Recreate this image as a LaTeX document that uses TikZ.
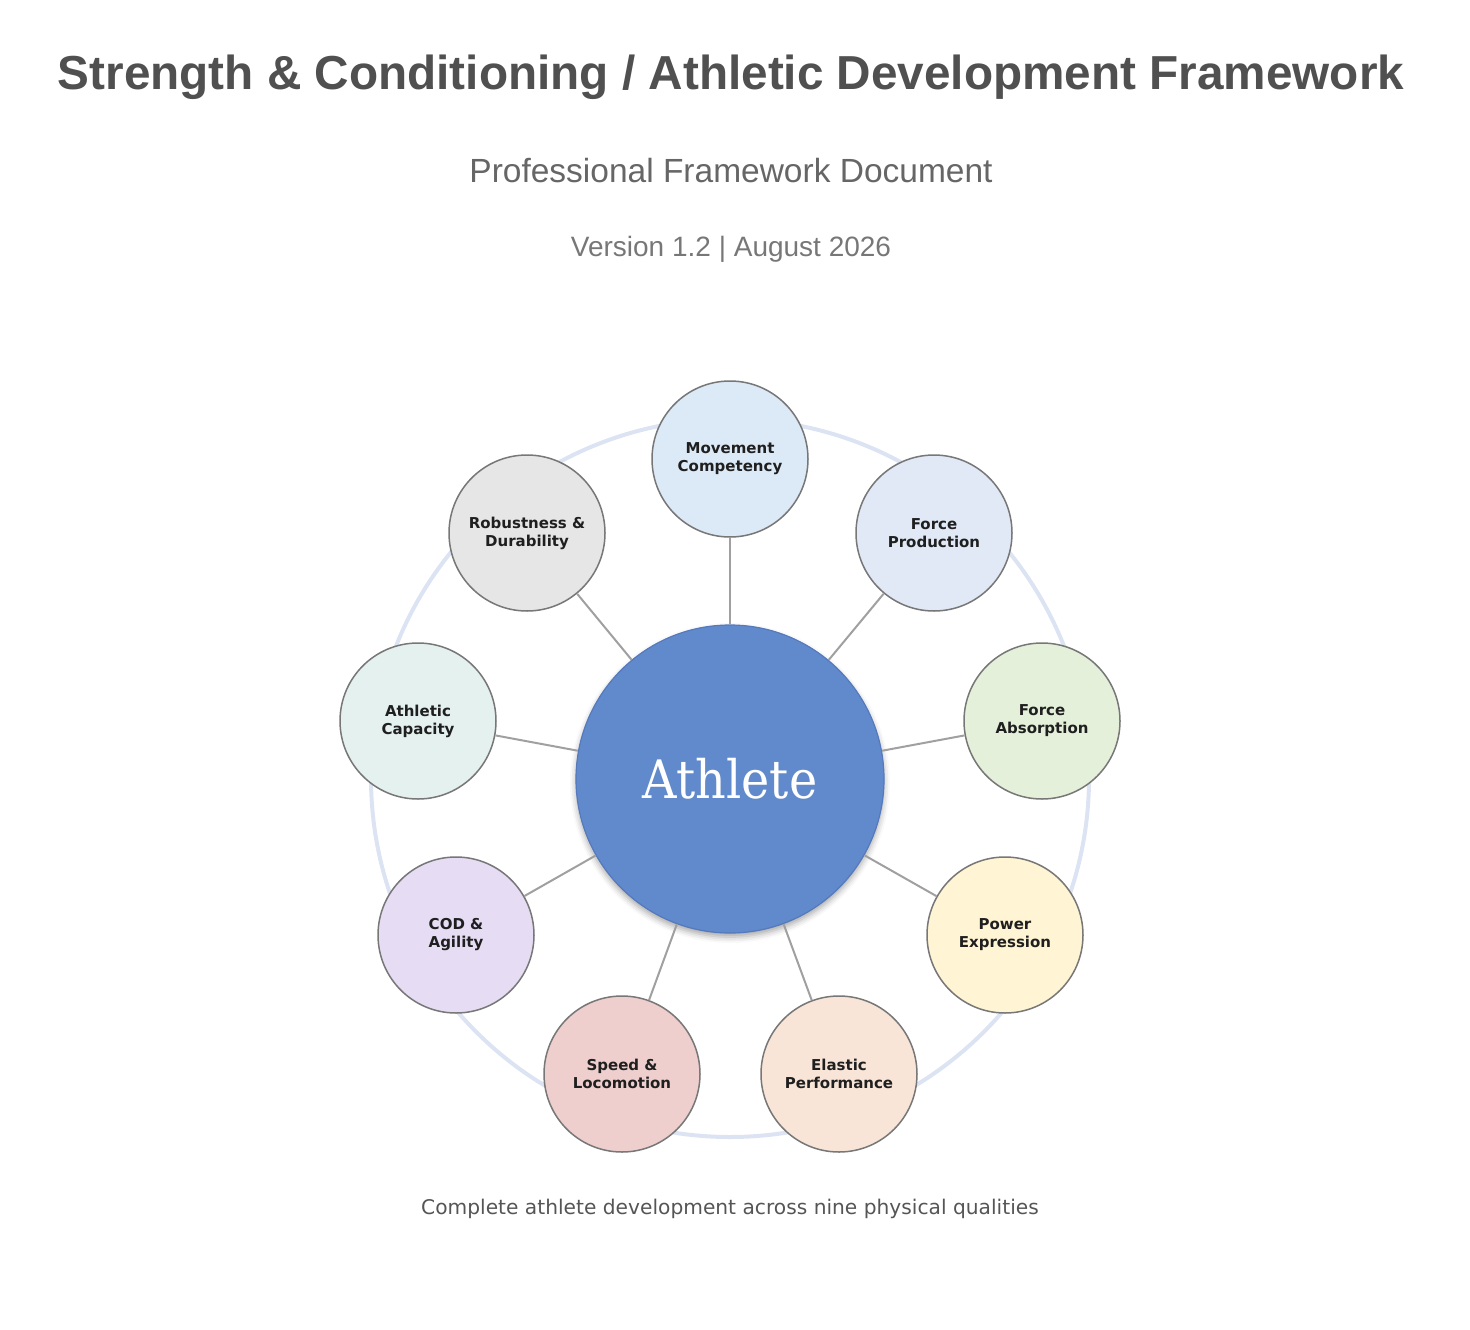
\documentclass[tikz,border=0pt]{standalone}
\usepackage{fontspec}
\setmainfont{Liberation Sans}
\newfontfamily\dejasans{DejaVu Sans}
\newfontfamily\dejaserif[FakeStretch=0.9]{DejaVu Serif}
\usetikzlibrary{shadows.blur}
\definecolor{titlegray}{HTML}{505050}
\definecolor{subgray}{HTML}{666666}
\definecolor{vergray}{HTML}{777777}
\definecolor{capgray}{HTML}{555555}
\definecolor{ringblue}{HTML}{DCE3F2}
\definecolor{linkgray}{HTML}{A0A0A0}
\definecolor{nodeborder}{HTML}{777777}
\definecolor{coreblue}{HTML}{618ACD}
\definecolor{coreborder}{HTML}{5479BC}
\definecolor{cMove}{HTML}{DCE9F6}
\definecolor{cFP}{HTML}{E0E9F5}
\definecolor{cFA}{HTML}{E5F0DA}
\definecolor{cPE}{HTML}{FFF4D3}
\definecolor{cEP}{HTML}{F8E5D8}
\definecolor{cSL}{HTML}{EECFCD}
\definecolor{cCOD}{HTML}{E6DDF5}
\definecolor{cAC}{HTML}{E5F1EF}
\definecolor{cRD}{HTML}{E6E6E6}
\begin{document}
\begin{tikzpicture}[x=1pt,y=-1pt,
  quality/.style={circle, draw=nodeborder, line width=1.5pt, minimum size=156pt, inner sep=0pt,
    align=center, text=black!88, font=\dejasans\bfseries\fontsize{15}{18}\selectfont},
  link/.style={draw=linkgray, line width=2pt},
  core/.style={circle, fill=coreblue, draw=coreborder, line width=1.2pt, minimum size=308pt, inner sep=0pt,
    text=white, font=\dejaserif\fontsize{53}{60}\selectfont,
    blur shadow={shadow xshift=0pt, shadow yshift=-4pt, shadow blur radius=6pt, shadow opacity=35}},
  ringstyle/.style={circle, draw=ringblue, line width=4pt, minimum size=718pt, inner sep=0pt}
]
\useasboundingbox (0,0) rectangle (1470,1330);
% titles
\node[anchor=base, text=titlegray, font=\bfseries\fontsize{47.7}{56}\selectfont] (title) at (731,89) {Strength \& Conditioning / Athletic Development Framework};
\node[anchor=base, text=subgray, font=\fontsize{33.5}{40}\selectfont] (subtitle) at (731,182) {Professional Framework Document};
\node[anchor=base, text=vergray, font=\fontsize{28}{34}\selectfont] (version) at (731,256) {Version 1.2 | August 2026};
% ring
\node[ringstyle] (ring) at (730,778) {};
% center
\node[core] (core) at (730,779) {Athlete};
% satellites
\node[quality, fill=cMove] (mc) at (730,459) {Movement\\Competency};
\node[quality, fill=cFP] (fp) at (934,533) {Force\\Production};
\node[quality, fill=cFA] (fa) at (1042,721) {Force\\Absorption};
\node[quality, fill=cPE] (pe) at (1005,935) {Power\\Expression};
\node[quality, fill=cEP] (ep) at (839,1074) {Elastic\\Performance};
\node[quality, fill=cSL] (sl) at (622,1074) {Speed \&\\Locomotion};
\node[quality, fill=cCOD] (cod) at (456,935) {COD \&\\Agility};
\node[quality, fill=cAC] (ac) at (418,721) {Athletic\\Capacity};
\node[quality, fill=cRD] (rd) at (527,533) {Robustness \&\\Durability};
% links
\foreach \s in {mc,fp,fa,pe,ep,sl,cod,ac,rd}{
  \draw[link] (core) -- (\s);
}
% caption
\node[anchor=base, text=capgray, font=\dejasans\fontsize{20.2}{24}\selectfont] (caption) at (730,1214) {Complete athlete development across nine physical qualities};
\end{tikzpicture}
\end{document}
